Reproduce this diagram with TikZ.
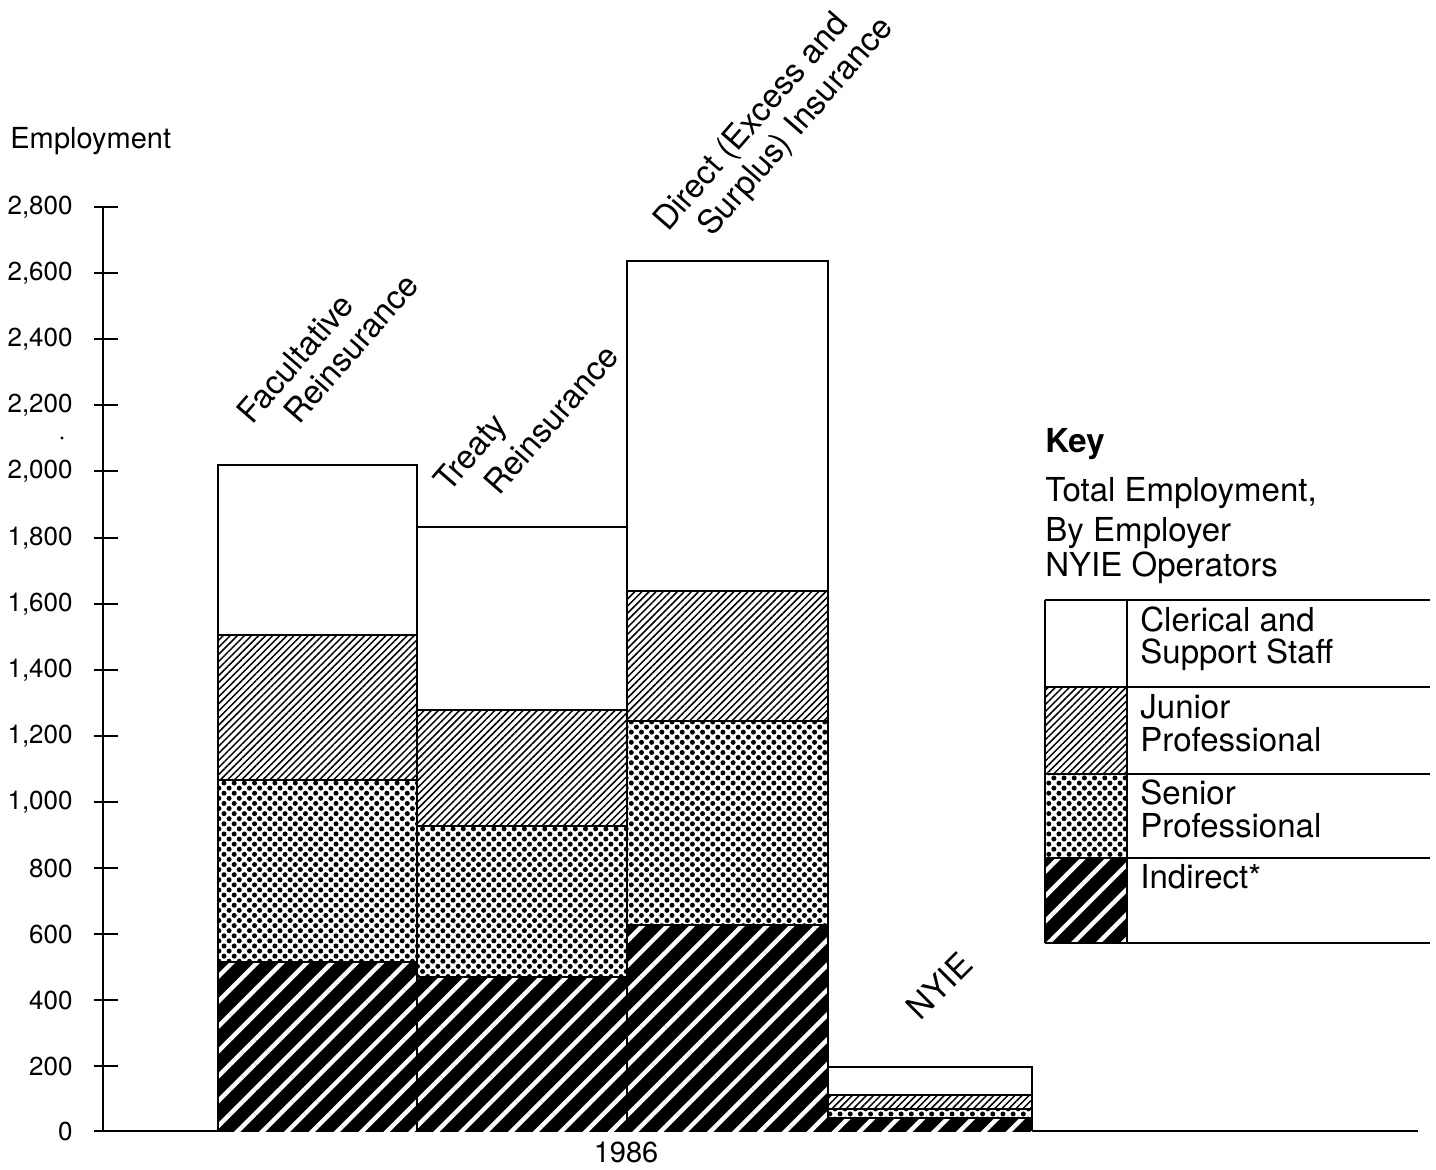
\documentclass[tikz,border=0pt]{standalone}
\usepackage{fontspec}
\setmainfont{TeX Gyre Heros}
\usetikzlibrary{patterns.meta}
\tikzset{
  clerical/.style={fill=white},
  junior/.style={pattern={Lines[angle=45,distance=2.5pt,line width=0.75pt]},pattern color=black},
  senior/.style={pattern={Dots[angle=45,distance=3.6pt,radius=1.25pt]},pattern color=black},
  indirect/.style={preaction={fill=black},pattern={Lines[angle=45,distance=8.8pt,line width=2.2pt]},pattern color=white},
  segline/.style={draw=black,line width=0.9pt},
  axisline/.style={draw=black,line width=1pt},
  ticklabel/.style={anchor=east,font=\fontsize{13}{15}\selectfont,inner sep=0pt},
  catlabel/.style={anchor=base west,rotate=49,font=\fontsize{16.5}{18}\selectfont,inner sep=0pt},
  keytext/.style={anchor=base west,font=\fontsize{16.5}{19}\selectfont,inner sep=0pt},
  axtext/.style={font=\fontsize{14.5}{17}\selectfont,inner sep=0pt},
}
\newcommand\empbar[6]{%
  \fill[clerical] (#1,#3) rectangle (#2,#4);
  \fill[junior] (#1,#4) rectangle (#2,#5);
  \fill[senior] (#1,#5) rectangle (#2,#6);
  \fill[indirect] (#1,#6) rectangle (#2,1131);
  \draw[segline] (#1,1131) -- (#1,#3) -- (#2,#3) -- (#2,1131);
  \draw[segline] (#1,#4) -- (#2,#4) (#1,#5) -- (#2,#5) (#1,#6) -- (#2,#6);
}
\begin{document}
\begin{tikzpicture}[x=0.5pt,y=-0.5pt]
\useasboundingbox (0,0) rectangle (1436,1170);
% axis
\draw[axisline] (103,207) -- (103,1131);
\draw[axisline] (95,1131) -- (1418,1131);
\foreach \y/\lab [count=\i] in {1131/0,1066/200,1000/400,934/600,868/800,802/{1,000},736/{1,200},670/{1,400},604/{1,600},538/{1,800},471/{2,000},405/{2,200},339/{2,400},273/{2,600},207/{2,800}}{
  \draw[axisline] (94,\y) -- (118,\y);
  \node[ticklabel] (tick\i) at (73,\y) {\lab};
}
\node[axtext,anchor=base west] (ylabel) at (10,149) {Employment};
\node[axtext,anchor=base,font=\fontsize{14.5}{16}\selectfont] (year) at (626,1162) {1986};
\fill (62,438) circle (1.6);
% bars
\empbar{218}{417}{465}{635}{780}{962}
\empbar{417}{627}{527}{710}{826}{977}
\empbar{627}{828}{261}{591}{721}{925}
\empbar{828}{1032}{1067}{1095}{1109}{1118}
% category labels
\node[catlabel] (fac1) at (252,426) {Facultative};
\node[catlabel] (fac2) at (299,426) {Reinsurance};
\node[catlabel] (tre1) at (449,494) {Treaty};
\node[catlabel] (tre2) at (499,497) {Reinsurance};
\node[catlabel] (dir1) at (668,233) {Direct (Excess and};
\node[catlabel] (dir2) at (712,238) {Surplus) Insurance};
\node[catlabel,rotate=-4] (nyie) at (920,1022) {NYIE};
% key
\node[keytext,font=\fontsize{16.5}{19}\selectfont\bfseries] (key) at (1045,453) {Key};
\node[keytext] (k1) at (1045,502) {Total Employment,};
\node[keytext] (k2) at (1045,542) {By Employer};
\node[keytext] (k3) at (1045,577) {NYIE Operators};
\fill[clerical] (1045,600) rectangle (1127,687);
\fill[junior] (1045,687) rectangle (1127,774);
\fill[senior] (1045,774) rectangle (1127,858);
\fill[indirect] (1045,858) rectangle (1127,943);
\foreach \y in {600,687,774,858,943}{\draw[segline] (1045,\y) -- (1430,\y);}
\draw[segline] (1045,600) -- (1045,943);
\draw[segline] (1127,600) -- (1127,943);
\node[keytext] (c1) at (1140,632) {Clerical and};
\node[keytext] (c2) at (1140,664) {Support Staff};
\node[keytext] (j1) at (1140,719) {Junior};
\node[keytext] (j2) at (1140,752) {Professional};
\node[keytext] (s1) at (1140,805) {Senior};
\node[keytext] (s2) at (1140,838) {Professional};
\node[keytext] (i1) at (1140,888) {Indirect*};
\end{tikzpicture}
\end{document}
